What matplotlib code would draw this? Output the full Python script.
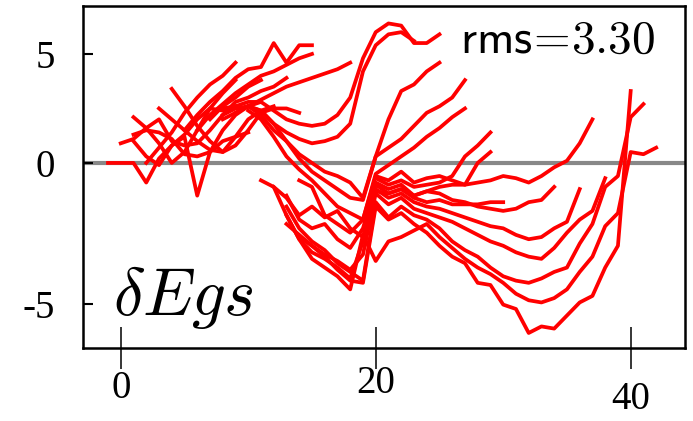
import matplotlib
matplotlib.use("Agg")
import matplotlib.pyplot as plt
import matplotlib.transforms as mtransforms

# chains: (first x, values)
left_chains = [
    (-1, [0, 0, 0, -0.9, 0.2, 0.8, 1.3, 2.0, 2.5, 2.4, 2.6]),
    (1, [1.0, 0.3, -0.1, 0.8, 1.2, -1.5, 0.5, 1.5, 2.2, 2.6, 2.8]),
    (1, [1.3, 1.5, 1.4, 1.1, 0.4, 0.3, 0.5, 1.0, 1.2, 1.4]),
    (2, [0.0, 0.7, 1.4, 2.3, 3.0, 3.6, 4.0, 4.6]),
    (1, [2.1, 1.6, 0.9, 0.0, 0.5, 1.5, 2.5, 3.2, 3.8]),
    (3, [2.5, 2.0, 1.5, 1.0, 0.6, 0.5, 1.2, 2.0, 2.4, 2.6]),
    (4, [3.4, 2.6, 1.7, 1.0, 0.5, 0.8, 1.5, 2.3, 2.5, 2.5, 2.3]),
    (0, [0.9, 1.1, 1.6, 2.0, 1.0, 0.8, 0.9, 1.5, 2.2, 2.8, 3.0, 3.3, 3.5, 3.9]),
]

upper_chains = [
    (5, [1.5, 2.2, 2.8, 3.3, 3.9, 4.3, 4.4, 5.5, 4.6, 5.4, 5.4]),
    (6, [1.5, 2.2, 2.7, 3.2, 3.6, 4.0, 4.2, 4.5, 4.8, 5.0]),
    (8, [2.0, 2.3, 2.6, 2.9, 3.2, 3.5, 3.7, 3.9, 4.1, 4.3, 4.6]),
    (7, [2.0, 2.6, 3.0, 3.5, 3.8]),
    (8, [2.5, 2.6, 2.8, 2.8, 2.4, 2.0, 1.8, 1.7, 1.8, 2.2, 3.0, 4.8, 6.0, 6.4, 6.3, 5.5, 5.5, 5.9]),
    (8, [2.2, 2.5, 2.6, 2.4, 1.8, 1.4, 1.1, 0.9, 1.0, 1.2, 1.8, 4.2, 5.4, 5.9, 6.0, 5.6]),
    (9, [2.3, 2.6, 2.2, 1.5, 1.0, 0.4, 0.0, -0.4, -0.6, -0.9, -1.6, 0.3, 2.0, 3.3, 3.6, 4.2, 4.6]),
    (10, [2.6, 2.4, 1.8, 1.0, 0.2, -0.4, -0.8, -1.2, -1.6, -1.7, 0.3, 0.7, 1.1, 1.7, 2.3, 2.6, 3.0, 3.8]),
    (10, [2.4, 2.0, 1.2, 0.3, -0.3, -0.8, -1.4, -2.0, -2.3, -2.6, -0.5, -0.1, 0.3, 0.7, 1.2, 1.6, 2.1, 2.5]),
    (20, [-0.7, -1.0, -0.8, -1.1, -1.0, -0.9, -0.6, 0.3, 0.8, 1.4]),
    (20, [-1.3, -1.4, -1.2, -1.5, -1.3, -1.1, -1.0, -1.0, 0.0, 0.5]),
]

# lower chains: part up to x=19, then part from x=20
dip_a = [-0.8, -1.1, -2.4, -2.8, -3.2, -2.6]
well_a = [-0.6, -0.8, -0.4, -0.9, -0.7, -0.6, -0.8, -1.0, -0.9, -0.8, -0.6, -0.7, -0.9, -0.6, -0.2, 0.1, 0.9, 2.0]
dip_b = [-1.1, -1.6, -2.4, -2.0, -2.5, -2.2, -3.0, -3.4]
well_b = [-0.9, -1.2, -1.0, -1.5, -1.3, -1.4, -1.7, -1.8, -2.0, -2.1, -2.2, -2.1, -1.8, -1.7, -1.1]
dip_c = [-1.5, -2.6, -3.0, -2.8, -3.5, -3.9, -3.0]
well_c = [-1.0, -1.4, -1.2, -1.6, -1.8, -1.7, -1.9, -1.9, -1.9, -1.8, -1.8]
dip_d = [-0.8, -1.1, -2.4, -3.5, -4.1, -4.4, -4.8, -5.3, -3.6]
well_d = [-1.2, -1.6, -1.4, -1.8, -2.0, -2.1, -2.3, -2.5, -2.7, -2.9, -3.0, -3.3, -3.5, -3.4, -3.0, -2.7, -1.2]
dip_e = [-2.8, -3.3, -3.8, -4.2, -4.5, -4.9, -4.2]
well_e = [-1.4, -1.9, -1.6, -2.1, -2.3, -2.5, -2.7, -3.0, -3.3, -3.6, -3.8, -4.1, -4.3, -4.4, -3.9, -3.2, -2.6, -2.2, -0.7]
dip_g = [-2.0, -3.0, -3.6, -4.0, -4.6, -5.0, -5.4]
well_g = [-1.8, -2.5, -2.0, -2.4, -2.6, -3.0, -3.6, -4.0, -4.3, -4.8, -5.2, -5.4, -5.5, -5.3, -5.0, -4.8, -3.7, -2.8, -1.1, -0.6, 2.1, 2.7]
dip_h = [-2.4, -3.5, -4.4, -4.8, -5.2, -5.8, -3.3]
well_h = [-4.5, -3.6, -3.4, -3.1, -2.8, -3.4, -3.9, -4.4, -4.8, -5.1, -5.5, -6.0, -6.3, -6.4, -6.2, -5.8, -5.0, -4.3, -2.9, -2.3, 0.5, 0.4, 0.7]
dip_i = [-3.4, -3.8, -4.3, -4.9, -5.4, -5.5]
well_i = [-2.0, -2.6, -2.3, -2.8, -3.2, -3.8, -4.3, -4.6, -5.5, -5.6, -6.5, -6.7, -7.8, -7.5, -7.6, -7.0, -6.4, -6.1, -4.8, -3.8, 3.3]

lower_chains = [
    (20 - len(dip_a), dip_a + well_a),
    (20 - len(dip_b), dip_b + well_b),
    (20 - len(dip_c), dip_c + well_c),
    (20 - len(dip_d), dip_d + well_d),
    (20 - len(dip_e), dip_e + well_e),
    (20 - len(dip_g), dip_g + well_g),
    (20 - len(dip_h), dip_h + well_h),
    (20 - len(dip_i), dip_i + well_i),
]

xticks = [0, 20, 40]
yticks = [5, 0, -6.45]
ytick_labels = ["5", "0", "-5"]

fig = plt.figure(figsize=(6.93, 4.21), dpi=100)
ax = fig.add_axes([83 / 693, 73 / 421, 602 / 693, 342 / 421])

ax.axhline(0, color="#888888", lw=3, zorder=1)
for x0, vals in left_chains + upper_chains + lower_chains:
    xs = list(range(x0, x0 + len(vals)))
    ax.plot(xs, vals, color="#ff0000", lw=2.7, zorder=2)

ax.set_xlim(-2.96, 44.26)
ax.set_ylim(-8.49, 7.2)
ax.set_xticks(xticks)
ax.set_xticklabels([str(t) for t in xticks])
ax.set_yticks(yticks)
ax.set_yticklabels(ytick_labels)

for s in ax.spines.values():
    s.set_linewidth(1.8)
ax.tick_params(axis="x", direction="inout", length=30, width=1.1, pad=-3,
               labelsize=28, labelfontfamily="Liberation Serif")
ax.tick_params(axis="y", direction="in", length=7, width=1.5, pad=20,
               labelsize=28, labelfontfamily="Liberation Serif")

# the x labels sit at slightly different heights in the original
for lab, dy in zip(ax.get_xticklabels(), [-4, 0, -12]):
    lab.set_transform(lab.get_transform() +
                      mtransforms.ScaledTranslation(0, dy / 72, fig.dpi_scale_trans))

ax.text(0.95, 0.863, r"$\mathsf{rms}\!=\!\mathsf{3.30}$", transform=ax.transAxes,
        ha="right", va="baseline", fontsize=34, math_fontfamily="cm")
ax.text(0.05, 0.096, r"$\delta Egs$", transform=ax.transAxes,
        ha="left", va="baseline", fontsize=48, math_fontfamily="cm")

fig.savefig("out.png", dpi=100)
